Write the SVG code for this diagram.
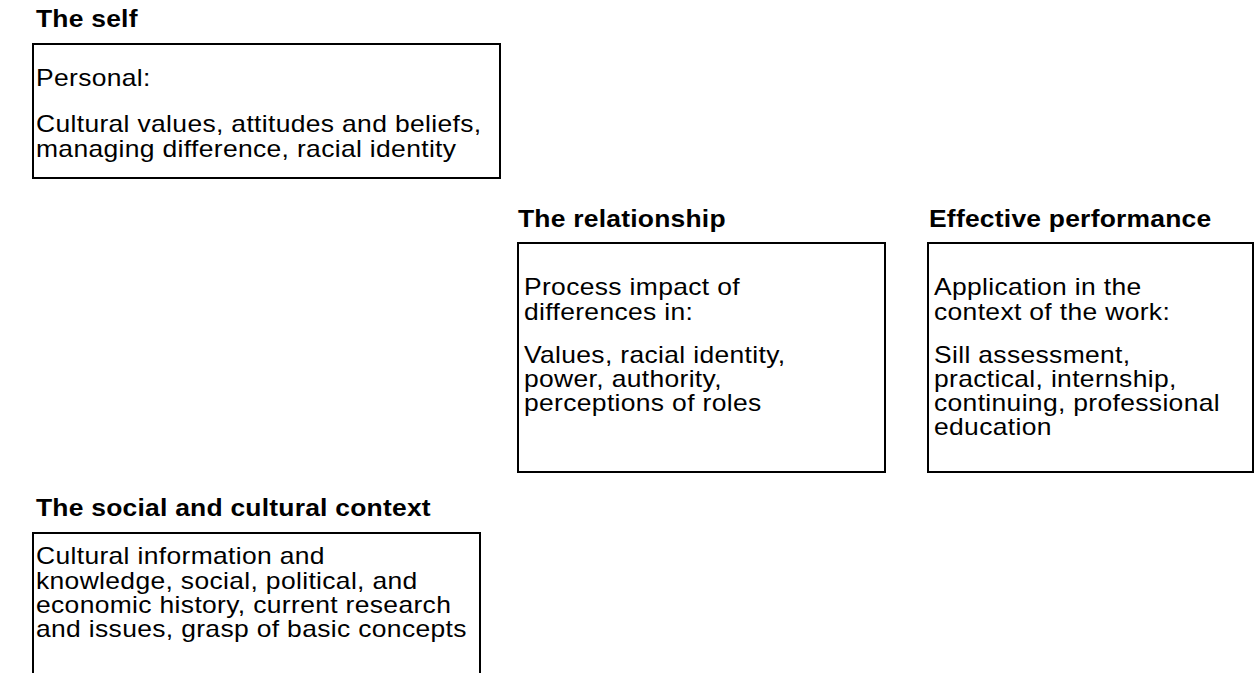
<svg xmlns="http://www.w3.org/2000/svg" width="1256" height="673" viewBox="0 0 1256 673">
  <style>
    .box { fill: #ffffff; stroke: #000000; stroke-width: 2; }
    .title { font-family: "Liberation Sans", Arial, sans-serif; font-size: 23px; font-weight: bold; letter-spacing: 0.2px; fill: #000000; }
    .body { font-family: "Liberation Sans", Arial, sans-serif; font-size: 23px; letter-spacing: 0.3px; fill: #000000; }
  </style>
  <rect x="0" y="0" width="1256" height="673" fill="#ffffff"/>

  <!-- The self -->
  <g id="node-self">
    <rect class="box" x="33" y="44" width="467" height="134"/>
    <g transform="translate(36 0) scale(1.15 1)">
      <text class="title" x="0" y="27">The self</text>
      <text class="body" x="0" y="86">Personal:</text>
      <text class="body" x="0" y="132">Cultural values, attitudes and beliefs,</text>
      <text class="body" x="0" y="157">managing difference, racial identity</text>
    </g>
  </g>

  <!-- The relationship -->
  <g id="node-relationship">
    <rect class="box" x="518" y="243" width="367" height="229"/>
    <g transform="translate(518 0) scale(1.15 1)">
      <text class="title" x="0" y="227">The relationship</text>
    </g>
    <g transform="translate(524 0) scale(1.15 1)">
      <text class="body" x="0" y="295">Process impact of</text>
      <text class="body" x="0" y="320">differences in:</text>
      <text class="body" x="0" y="363">Values, racial identity,</text>
      <text class="body" x="0" y="387">power, authority,</text>
      <text class="body" x="0" y="411">perceptions of roles</text>
    </g>
  </g>

  <!-- Effective performance -->
  <g id="node-performance">
    <rect class="box" x="928" y="243" width="325" height="229"/>
    <g transform="translate(929 0) scale(1.15 1)">
      <text class="title" x="0" y="227">Effective performance</text>
    </g>
    <g transform="translate(934 0) scale(1.15 1)">
      <text class="body" x="0" y="295">Application in the</text>
      <text class="body" x="0" y="320">context of the work:</text>
      <text class="body" x="0" y="363">Sill assessment,</text>
      <text class="body" x="0" y="387">practical, internship,</text>
      <text class="body" x="0" y="411">continuing, professional</text>
      <text class="body" x="0" y="435">education</text>
    </g>
  </g>

  <!-- The social and cultural context -->
  <g id="node-context">
    <rect class="box" x="33" y="533" width="447" height="160"/>
    <g transform="translate(36 0) scale(1.15 1)">
      <text class="title" x="0" y="516">The social and cultural context</text>
      <text class="body" x="0" y="564">Cultural information and</text>
      <text class="body" x="0" y="589">knowledge, social, political, and</text>
      <text class="body" x="0" y="613">economic history, current research</text>
      <text class="body" x="0" y="637">and issues, grasp of basic concepts</text>
    </g>
  </g>

  <g id="connectors"></g>
</svg>
